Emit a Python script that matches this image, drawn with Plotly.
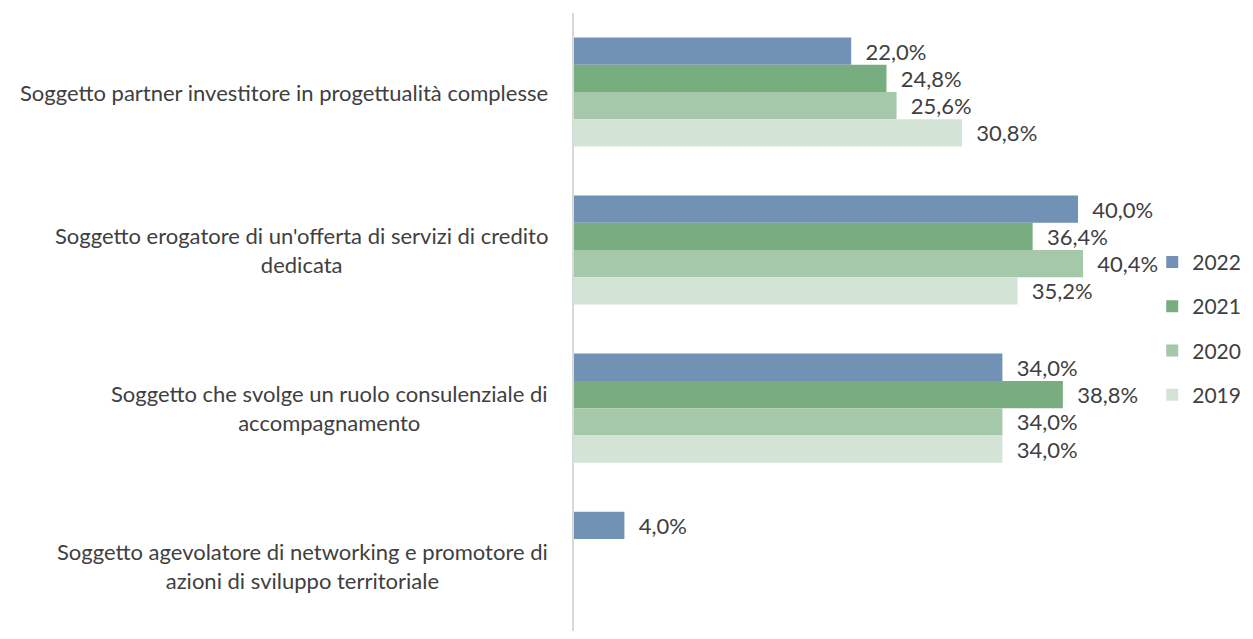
import plotly.graph_objects as go

categories = [
    "Soggetto partner investitore in progettualità complesse",
    "Soggetto erogatore di un'offerta di servizi di credito<br>dedicata",
    "Soggetto che svolge un ruolo consulenziale di<br>accompagnamento",
    "Soggetto agevolatore di networking e promotore di<br>azioni di sviluppo territoriale",
]
years = ["2022", "2021", "2020", "2019"]
values = {
    "2022": [22.0, 40.0, 34.0, 4.0],
    "2021": [24.8, 36.4, 38.8, None],
    "2020": [25.6, 40.4, 34.0, None],
    "2019": [30.8, 35.2, 34.0, None],
}
colors = ["#7191B5", "#78AD80", "#A5C8AA", "#D3E4D7"]

font = "Lato, 'Open Sans', sans-serif"
text_col = "#404040"
fs = 22

fig = go.Figure()
for i, yr in enumerate(years):
    vals = values[yr]
    labels = ["\u00a0\u00a0" + ("%.1f%%" % v).replace(".", ",") if v is not None else "" for v in vals]
    fig.add_trace(go.Bar(
        y=list(range(len(categories))),
        x=vals,
        orientation="h",
        name=yr,
        legendgroup=yr,
        marker=dict(color=colors[i], line_width=0),
        text=labels,
        textposition="outside",
        textfont=dict(size=fs, color=text_col, family=font),
        cliponaxis=False,
    ))

# category labels, centred lines like the original
for j, c in enumerate(categories):
    fig.add_annotation(
        x=-0.042, xref="paper", y=j, yref="y",
        text=c, showarrow=False, xanchor="right", yanchor="middle",
        align="center", font=dict(size=fs, color=text_col, family=font),
    )

# page body has an 8px margin, so the figure is sized to fit the window
fig.update_layout(
    width=1237, height=623,
    margin=dict(l=566, r=104, t=5, b=0),
    paper_bgcolor="white", plot_bgcolor="white",
    barmode="group", bargap=0.31, bargroupgap=0,
    font=dict(family=font, color=text_col),
    xaxis=dict(range=[0, 45], visible=False),
    yaxis=dict(range=[3.41, -0.5], showticklabels=False, showgrid=False,
               zeroline=False, showline=True, linecolor="#D9D9D9", linewidth=1.5,
               ticks=""),
    legend=dict(xref="container", x=0.925, xanchor="left",
                y=0.489, yanchor="middle", bgcolor="rgba(0,0,0,0)",
                traceorder="grouped", tracegroupgap=14,
                font=dict(size=21, color=text_col, family=font)),
)

fig.write_html("out.html")
